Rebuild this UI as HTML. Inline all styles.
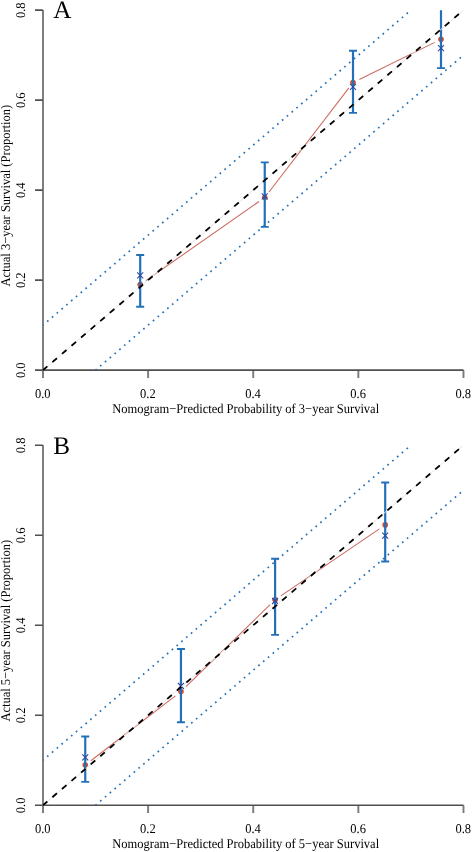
<!DOCTYPE html><html><head><meta charset="utf-8"><style>html,body{margin:0;padding:0;background:#fff;}svg{display:block;}text{font-family:"Liberation Serif",serif;fill:#000;text-rendering:geometricPrecision;}svg{will-change:transform;}</style></head><body>
<svg width="472" height="852" viewBox="0 0 472 852">
<defs><clipPath id="c0"><rect x="42.8" y="10.3" width="420.48" height="360.0"/></clipPath></defs>
<path d="M43.0 10.0V370.8M43.00 370.3V378.0M148.12 370.3V378.0M253.24 370.3V378.0M358.36 370.3V378.0M463.48 370.3V378.0" stroke="#7a7a7a" stroke-width="1.9" fill="none"/>
<path d="M42.3 370.1H463.58000000000004M35.0 370.10H42.8M35.0 280.10H42.8M35.0 190.10H42.8M35.0 100.10H42.8M35.0 10.10H42.8" stroke="#505050" stroke-width="1.6" fill="none"/>
<text transform="translate(42.80,397.50) scale(1,1.07)" font-size="12.5" text-anchor="middle">0.0</text>
<text transform="translate(25.10,370.30) rotate(-90) scale(1,1.07)" font-size="12.5" text-anchor="middle">0.0</text>
<text transform="translate(147.92,397.50) scale(1,1.07)" font-size="12.5" text-anchor="middle">0.2</text>
<text transform="translate(25.10,280.30) rotate(-90) scale(1,1.07)" font-size="12.5" text-anchor="middle">0.2</text>
<text transform="translate(253.04,397.50) scale(1,1.07)" font-size="12.5" text-anchor="middle">0.4</text>
<text transform="translate(25.10,190.30) rotate(-90) scale(1,1.07)" font-size="12.5" text-anchor="middle">0.4</text>
<text transform="translate(358.16,397.50) scale(1,1.07)" font-size="12.5" text-anchor="middle">0.6</text>
<text transform="translate(25.10,100.30) rotate(-90) scale(1,1.07)" font-size="12.5" text-anchor="middle">0.6</text>
<text transform="translate(463.28,397.50) scale(1,1.07)" font-size="12.5" text-anchor="middle">0.8</text>
<text transform="translate(25.10,10.30) rotate(-90) scale(1,1.07)" font-size="12.5" text-anchor="middle">0.8</text>
<g clip-path="url(#c0)"><line x1="145.94" y1="280.59" x2="259.01" y2="201.51" stroke="#cc685c" stroke-width="1.05"/><line x1="269.01" y1="191.95" x2="348.74" y2="88.15" stroke="#cc685c" stroke-width="1.05"/><line x1="359.28" y1="79.51" x2="434.72" y2="42.39" stroke="#cc685c" stroke-width="1.05"/><circle cx="140.2" cy="284.6" r="2.8" fill="#d04c34"/><circle cx="264.75" cy="197.5" r="2.8" fill="#d04c34"/><circle cx="353.0" cy="82.6" r="2.8" fill="#d04c34"/><circle cx="441.0" cy="39.3" r="2.8" fill="#d04c34"/><line x1="140.2" y1="255.0" x2="140.2" y2="306.7" stroke="#2470b8" stroke-width="2.2"/><line x1="136.2" y1="255.0" x2="144.2" y2="255.0" stroke="#2470b8" stroke-width="1.9"/><line x1="136.2" y1="306.7" x2="144.2" y2="306.7" stroke="#2470b8" stroke-width="1.9"/><line x1="264.75" y1="162.35" x2="264.75" y2="226.85" stroke="#2470b8" stroke-width="2.2"/><line x1="260.75" y1="162.35" x2="268.75" y2="162.35" stroke="#2470b8" stroke-width="1.9"/><line x1="260.75" y1="226.85" x2="268.75" y2="226.85" stroke="#2470b8" stroke-width="1.9"/><line x1="353.0" y1="50.7" x2="353.0" y2="112.9" stroke="#2470b8" stroke-width="2.2"/><line x1="349.0" y1="50.7" x2="357.0" y2="50.7" stroke="#2470b8" stroke-width="1.9"/><line x1="349.0" y1="112.9" x2="357.0" y2="112.9" stroke="#2470b8" stroke-width="1.9"/><line x1="441.0" y1="0" x2="441.0" y2="68.1" stroke="#2470b8" stroke-width="2.2"/><line x1="437.0" y1="68.1" x2="445.0" y2="68.1" stroke="#2470b8" stroke-width="1.9"/><path d="M137.2 272.3L143.2 278.3M137.2 278.3L143.2 272.3" stroke="#2d4a9c" stroke-width="1.1" fill="none"/><path d="M261.75 193.3L267.75 199.3M261.75 199.3L267.75 193.3" stroke="#2d4a9c" stroke-width="1.1" fill="none"/><path d="M350.0 83.8L356.0 89.8M350.0 89.8L356.0 83.8" stroke="#2d4a9c" stroke-width="1.1" fill="none"/><path d="M438.0 45.15L444.0 51.15M438.0 51.15L444.0 45.15" stroke="#2d4a9c" stroke-width="1.1" fill="none"/><line x1="42.8" y1="370.3" x2="463.28000000000003" y2="10.300000000000011" stroke="#e6e6e6" stroke-width="1"/><line x1="42.8" y1="370.3" x2="463.28000000000003" y2="10.300000000000011" stroke="#000" stroke-width="1.8" stroke-dasharray="6 6.6"/><line x1="42.80" y1="325.30" x2="410.72" y2="10.30" stroke="#2470b8" stroke-width="1.7" stroke-dasharray="1.7 4.61" stroke-dashoffset="0.6"/><line x1="95.36" y1="370.30" x2="463.28" y2="55.30" stroke="#2470b8" stroke-width="1.7" stroke-dasharray="1.7 4.61" stroke-dashoffset="0"/></g>
<text transform="translate(112.3,412.60) scale(1,1.07)" font-size="12.5">Nomogram−Predicted Probability of 3−year Survival</text>
<text transform="translate(9.9,286.50) rotate(-90) scale(1,1.07)" font-size="12.5">Actual 3−year Survival (Proportion)</text>
<text x="53.2" y="17.80" font-size="25.2">A</text>
<defs><clipPath id="c1"><rect x="42.8" y="445.4" width="420.48" height="360.0"/></clipPath></defs>
<path d="M43.0 445.09999999999997V805.9M43.00 805.4V813.1M148.12 805.4V813.1M253.24 805.4V813.1M358.36 805.4V813.1M463.48 805.4V813.1" stroke="#7a7a7a" stroke-width="1.9" fill="none"/>
<path d="M42.3 805.1999999999999H463.58000000000004M35.0 805.20H42.8M35.0 715.20H42.8M35.0 625.20H42.8M35.0 535.20H42.8M35.0 445.20H42.8" stroke="#505050" stroke-width="1.6" fill="none"/>
<text transform="translate(42.80,832.60) scale(1,1.07)" font-size="12.5" text-anchor="middle">0.0</text>
<text transform="translate(25.10,805.40) rotate(-90) scale(1,1.07)" font-size="12.5" text-anchor="middle">0.0</text>
<text transform="translate(147.92,832.60) scale(1,1.07)" font-size="12.5" text-anchor="middle">0.2</text>
<text transform="translate(25.10,715.40) rotate(-90) scale(1,1.07)" font-size="12.5" text-anchor="middle">0.2</text>
<text transform="translate(253.04,832.60) scale(1,1.07)" font-size="12.5" text-anchor="middle">0.4</text>
<text transform="translate(25.10,625.40) rotate(-90) scale(1,1.07)" font-size="12.5" text-anchor="middle">0.4</text>
<text transform="translate(358.16,832.60) scale(1,1.07)" font-size="12.5" text-anchor="middle">0.6</text>
<text transform="translate(25.10,535.40) rotate(-90) scale(1,1.07)" font-size="12.5" text-anchor="middle">0.6</text>
<text transform="translate(463.28,832.60) scale(1,1.07)" font-size="12.5" text-anchor="middle">0.8</text>
<text transform="translate(25.10,445.40) rotate(-90) scale(1,1.07)" font-size="12.5" text-anchor="middle">0.8</text>
<g clip-path="url(#c1)"><line x1="90.80" y1="760.74" x2="175.40" y2="695.86" stroke="#cc685c" stroke-width="1.05"/><line x1="185.96" y1="686.71" x2="270.09" y2="604.69" stroke="#cc685c" stroke-width="1.05"/><line x1="280.89" y1="595.86" x2="379.41" y2="528.84" stroke="#cc685c" stroke-width="1.05"/><circle cx="85.25" cy="765.0" r="2.8" fill="#d04c34"/><circle cx="180.95" cy="691.6" r="2.8" fill="#d04c34"/><circle cx="275.1" cy="599.8" r="2.8" fill="#d04c34"/><circle cx="385.2" cy="524.9" r="2.8" fill="#d04c34"/><line x1="85.25" y1="736.5" x2="85.25" y2="781.9" stroke="#2470b8" stroke-width="2.2"/><line x1="81.25" y1="736.5" x2="89.25" y2="736.5" stroke="#2470b8" stroke-width="1.9"/><line x1="81.25" y1="781.9" x2="89.25" y2="781.9" stroke="#2470b8" stroke-width="1.9"/><line x1="180.95" y1="649.05" x2="180.95" y2="722.2" stroke="#2470b8" stroke-width="2.2"/><line x1="176.95" y1="649.05" x2="184.95" y2="649.05" stroke="#2470b8" stroke-width="1.9"/><line x1="176.95" y1="722.2" x2="184.95" y2="722.2" stroke="#2470b8" stroke-width="1.9"/><line x1="275.1" y1="558.7" x2="275.1" y2="634.9" stroke="#2470b8" stroke-width="2.2"/><line x1="271.1" y1="558.7" x2="279.1" y2="558.7" stroke="#2470b8" stroke-width="1.9"/><line x1="271.1" y1="634.9" x2="279.1" y2="634.9" stroke="#2470b8" stroke-width="1.9"/><line x1="385.2" y1="482.5" x2="385.2" y2="561.5" stroke="#2470b8" stroke-width="2.2"/><line x1="381.2" y1="482.5" x2="389.2" y2="482.5" stroke="#2470b8" stroke-width="1.9"/><line x1="381.2" y1="561.5" x2="389.2" y2="561.5" stroke="#2470b8" stroke-width="1.9"/><path d="M82.25 754.4L88.25 760.4M82.25 760.4L88.25 754.4" stroke="#2d4a9c" stroke-width="1.1" fill="none"/><path d="M177.95 683.0L183.95 689.0M177.95 689.0L183.95 683.0" stroke="#2d4a9c" stroke-width="1.1" fill="none"/><path d="M272.1 598.0L278.1 604.0M272.1 604.0L278.1 598.0" stroke="#2d4a9c" stroke-width="1.1" fill="none"/><path d="M382.2 532.7L388.2 538.7M382.2 538.7L388.2 532.7" stroke="#2d4a9c" stroke-width="1.1" fill="none"/><line x1="42.8" y1="805.4" x2="463.28000000000003" y2="445.4" stroke="#e6e6e6" stroke-width="1"/><line x1="42.8" y1="805.4" x2="463.28000000000003" y2="445.4" stroke="#000" stroke-width="1.8" stroke-dasharray="6 6.6"/><line x1="42.80" y1="760.40" x2="410.72" y2="445.40" stroke="#2470b8" stroke-width="1.7" stroke-dasharray="1.7 4.61" stroke-dashoffset="0.6"/><line x1="95.36" y1="805.40" x2="463.28" y2="490.40" stroke="#2470b8" stroke-width="1.7" stroke-dasharray="1.7 4.61" stroke-dashoffset="0"/></g>
<text transform="translate(112.3,847.70) scale(1,1.07)" font-size="12.5">Nomogram−Predicted Probability of 5−year Survival</text>
<text transform="translate(9.9,721.60) rotate(-90) scale(1,1.07)" font-size="12.5">Actual 5−year Survival (Proportion)</text>
<text x="53.2" y="453.60" font-size="25.2">B</text>
</svg></body></html>
